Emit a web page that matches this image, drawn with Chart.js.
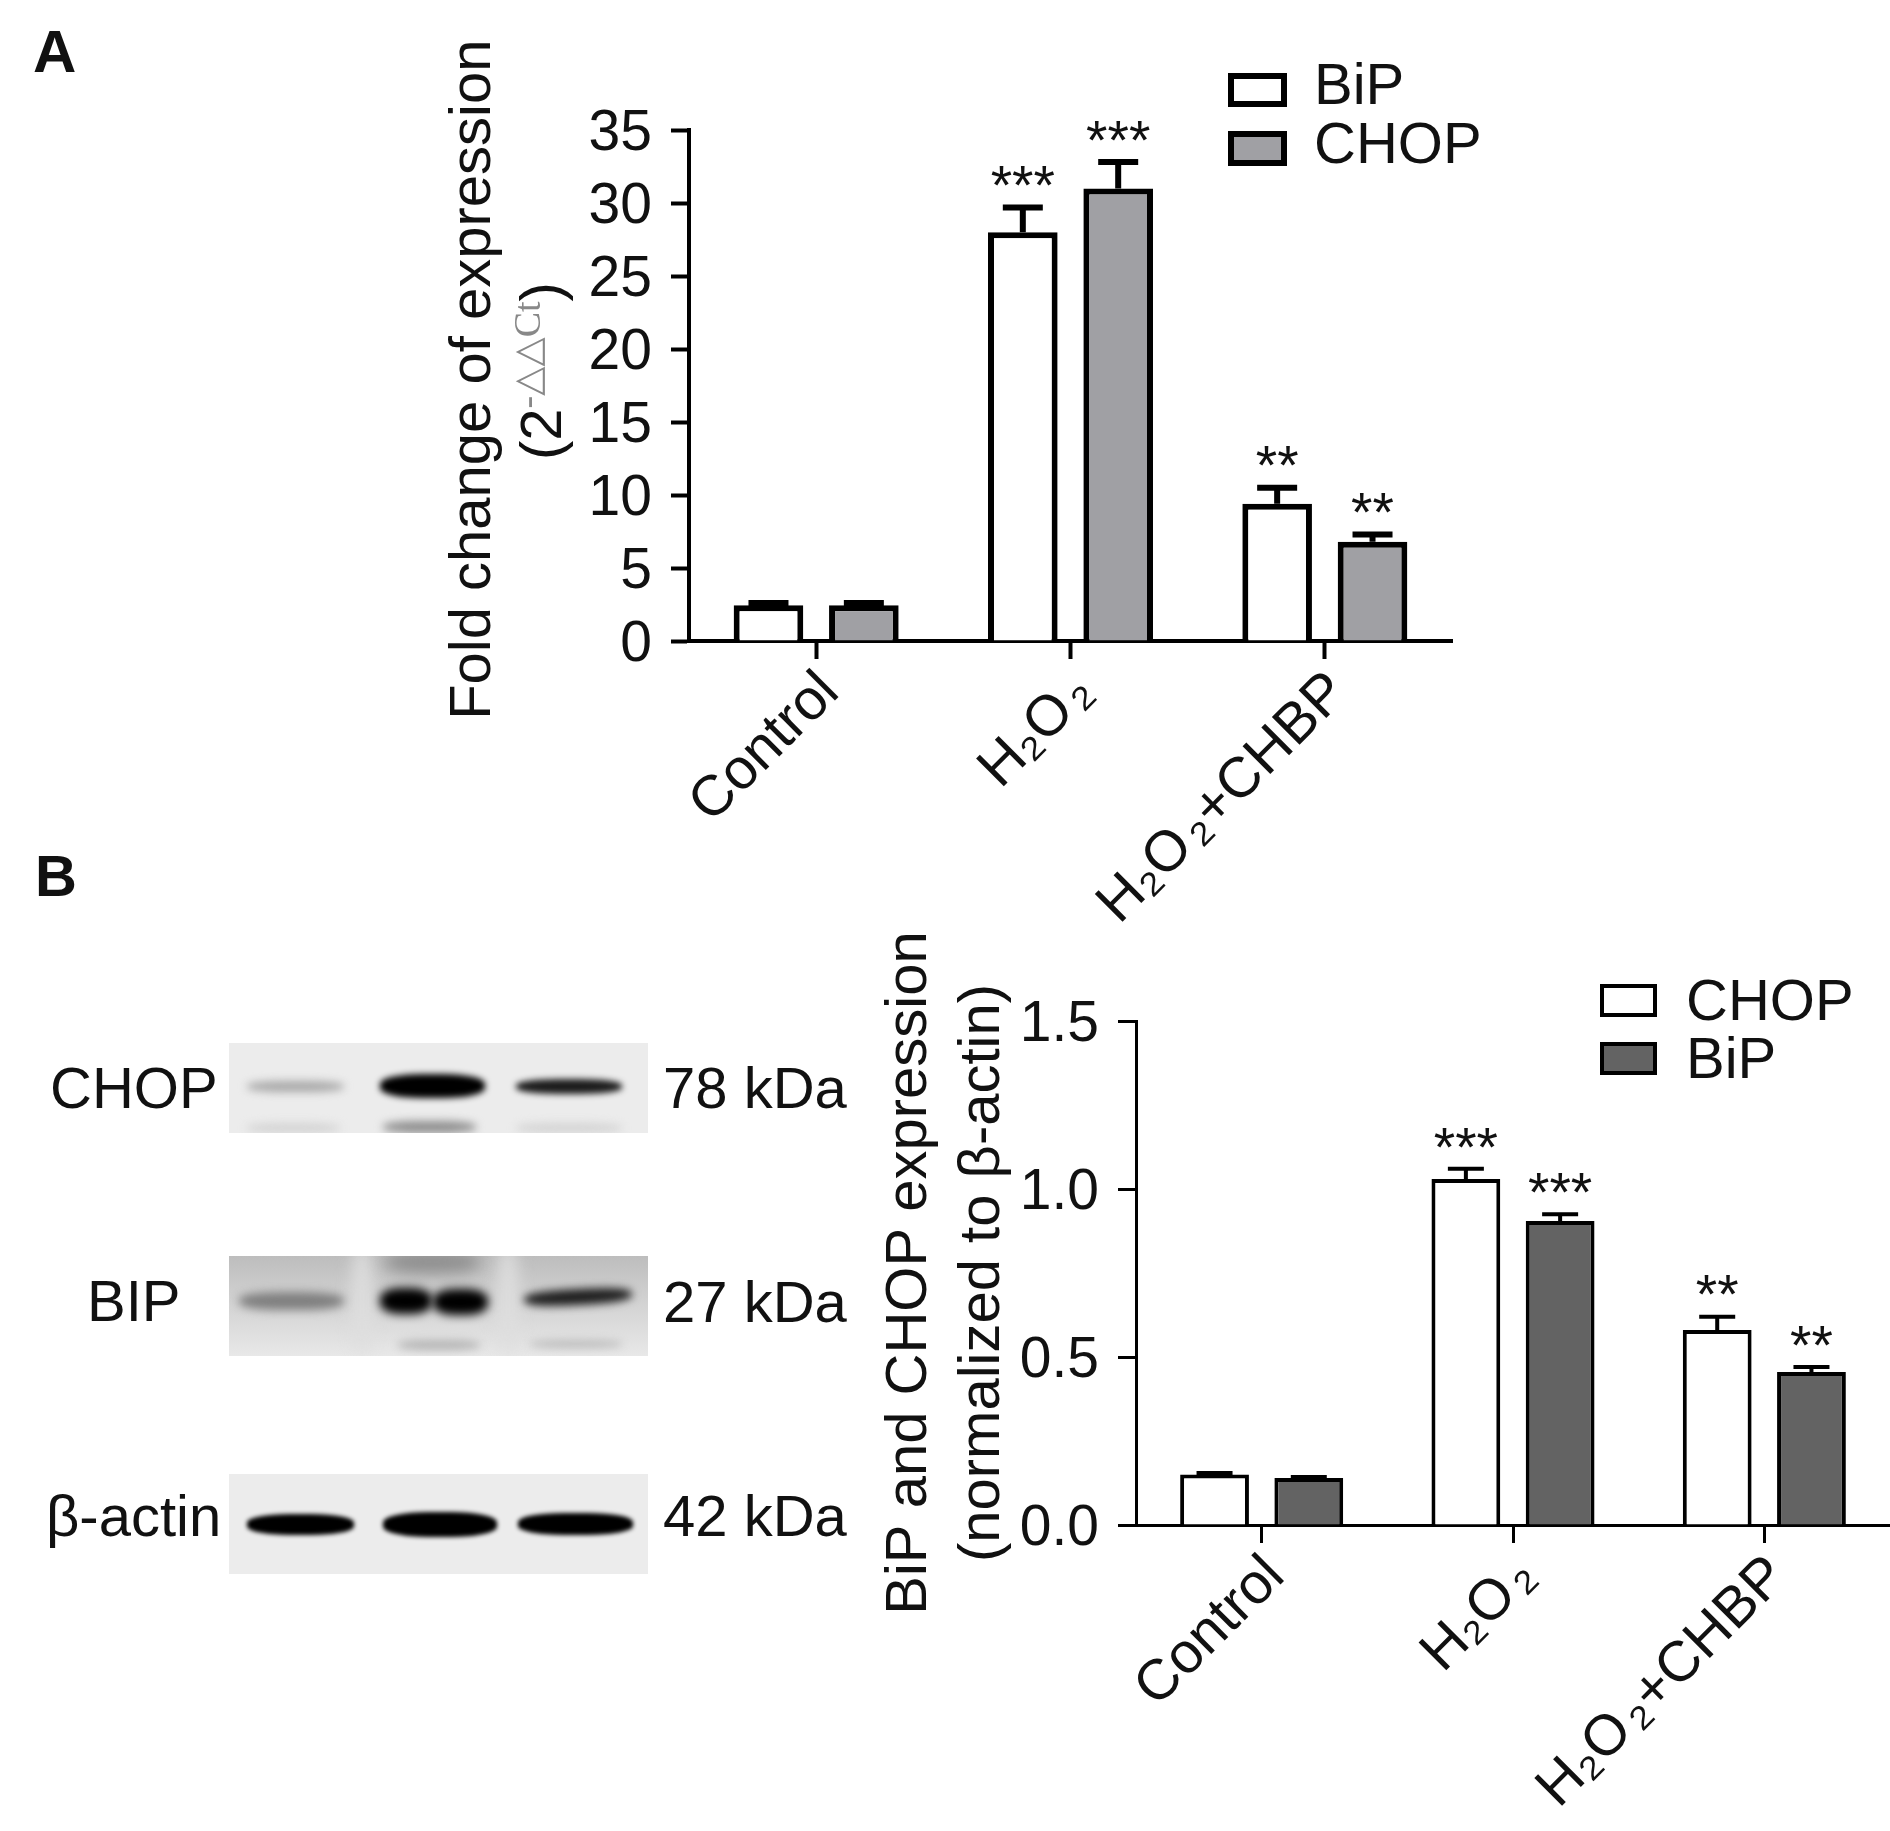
<!DOCTYPE html>
<html>
<head>
<meta charset="utf-8">
<script src="https://cdn.jsdelivr.net/npm/chart.js@4/dist/chart.umd.js"></script>
<style>
  html, body { margin: 0; padding: 0; background: #fff; }
  body { position: relative; width: 1890px; height: 1831px; overflow: hidden; font-family: "Liberation Sans", Arial, sans-serif; color: #111; }
  canvas { position: absolute; }
  .txt { position: absolute; white-space: nowrap; line-height: 1; transform: translateY(-50%); }
  .leg { position: absolute; box-sizing: border-box; }
  .panel { position: absolute; overflow: hidden; left: 229px; width: 419px; }
  .band { position: absolute; border-radius: 40%; }
</style>
</head>
<body>
<canvas id="chartA" width="1100" height="950" style="left:420px;top:0"></canvas>
<canvas id="chartB" width="1060" height="911" style="left:860px;top:920px"></canvas>

<script>
/* data */
var categoriesA = ['Control', 'H₂O\u200a₂', 'H₂O\u200a₂+CHBP'];
var bipA = [2.45, 28, 9.4];
var chopA = [2.45, 31, 6.8];
var bipErrA = [0.15, 1.7, 1.1];
var chopErrA = [0.15, 1.8, 0.5];
var bipStarsA = ['', '***', '**'];
var chopStarsA = ['', '***', '**'];
var yTicksA = [0, 5, 10, 15, 20, 25, 30, 35];

var categoriesB = ['Control', 'H₂O\u200a₂', 'H₂O\u200a₂+CHBP'];
var chopB = [0.15, 1.03, 0.58];
var bipB = [0.14, 0.905, 0.455];
var chopErrB = [0.005, 0.03, 0.04];
var bipErrB = [0.003, 0.02, 0.015];
var chopStarsB = ['', '***', '**'];
var bipStarsB = ['', '***', '**'];
var yTicksB = [0, 0.5, 1, 1.5];

Chart.defaults.font.family = '"Liberation Sans", Arial, sans-serif';
Chart.defaults.color = '#111';
var FONT = 58;

// error bars go under the bars, stars on top
var errorStars = {
    id: 'errorStars',
    beforeDatasetsDraw: function (chart) {
        var ctx = chart.ctx, yScale = chart.scales.y;
        chart.data.datasets.forEach(function (ds, i) {
            chart.getDatasetMeta(i).data.forEach(function (bar, j) {
                var top = yScale.getPixelForValue(ds.data[j] + ds.errors[j]);
                ctx.save();
                ctx.strokeStyle = '#000';
                ctx.lineWidth = ds.borderWidth;
                ctx.beginPath();
                ctx.moveTo(bar.x, bar.y);
                ctx.lineTo(bar.x, top);
                ctx.moveTo(bar.x - ds.capWidth / 2, top);
                ctx.lineTo(bar.x + ds.capWidth / 2, top);
                ctx.stroke();
                ctx.restore();
            });
        });
    },
    afterDatasetsDraw: function (chart) {
        var ctx = chart.ctx, yScale = chart.scales.y;
        chart.data.datasets.forEach(function (ds, i) {
            chart.getDatasetMeta(i).data.forEach(function (bar, j) {
                if (!ds.stars[j]) return;
                var top = yScale.getPixelForValue(ds.data[j] + ds.errors[j]);
                ctx.save();
                ctx.fillStyle = '#111';
                ctx.font = '55px "Liberation Sans", Arial, sans-serif';
                ctx.textAlign = 'center';
                ctx.textBaseline = 'top';
                ctx.fillText(ds.stars[j], bar.x, top - 46);
                ctx.restore();
            });
        });
    }
};

// second title line of panel A has a small grey superscript
var foldTitle = {
    id: 'foldTitle',
    afterDraw: function (chart) {
        var ctx = chart.ctx;
        ctx.save();
        ctx.translate(125, 370);
        ctx.rotate(-Math.PI / 2);
        ctx.textBaseline = 'middle';
        ctx.textAlign = 'left';
        var x = -90;
        ctx.font = FONT + 'px "Liberation Sans", Arial, sans-serif';
        ctx.fillStyle = '#111';
        ctx.fillText('(2', x, 0);
        x += ctx.measureText('(2').width;
        ctx.font = '38px "Liberation Serif", "DejaVu Serif", serif';
        ctx.fillStyle = '#888';
        ctx.fillText('-△△Ct', x, -15);
        x += ctx.measureText('-△△Ct').width;
        ctx.font = FONT + 'px "Liberation Sans", Arial, sans-serif';
        ctx.fillStyle = '#111';
        ctx.fillText(')', x, 0);
        ctx.restore();
    }
};

function makeChart(id, cfg) {
    new Chart(document.getElementById(id).getContext('2d'), {
        type: 'bar',
        data: {
            labels: cfg.labels,
            datasets: cfg.datasets
        },
        options: {
            responsive: false,
            animation: false,
            devicePixelRatio: 1,
            layout: { padding: cfg.padding },
            plugins: { legend: { display: false }, tooltip: { enabled: false } },
            scales: {
                x: {
                    afterFit: function (s) { s.height = cfg.xHeight; },
                    grid: { display: true, drawOnChartArea: false, offset: false, tickLength: 18, tickWidth: cfg.axisWidth, tickColor: '#000' },
                    border: { color: '#000', width: cfg.axisWidth },
                    ticks: { font: { size: 57 }, minRotation: 45, maxRotation: 45, padding: 0, labelOffset: 14, color: '#111', autoSkip: false }
                },
                y: {
                    min: cfg.yTicks[0],
                    max: cfg.yTicks[cfg.yTicks.length - 1],
                    afterFit: function (s) { s.width = cfg.yWidth; },
                    afterBuildTicks: function (s) { s.ticks = cfg.yTicks.map(function (v) { return { value: v }; }); },
                    grid: { drawOnChartArea: false, tickLength: 18, tickWidth: cfg.axisWidth, tickColor: '#000' },
                    border: { color: '#000', width: cfg.axisWidth },
                    ticks: { font: { size: 57 }, padding: 19, labelOffset: 4, color: '#111', callback: cfg.tickFormat },
                    title: { display: true, text: cfg.yTitle, font: { size: FONT, lineHeight: 1.25 }, color: '#111', padding: cfg.titlePadding }
                }
            }
        },
        plugins: cfg.plugins
    });
}

function barSet(label, values, errors, stars, fill, border, cap) {
    return {
        label: label, data: values, errors: errors, stars: stars,
        backgroundColor: fill, borderColor: '#000', borderWidth: border,
        categoryPercentage: 0.75, barPercentage: 0.73, capWidth: cap
    };
}

makeChart('chartA', {
    labels: categoriesA,
    datasets: [
        barSet('BiP', bipA, bipErrA, bipStarsA, '#ffffff', 6, 40),
        barSet('CHOP', chopA, chopErrA, chopStarsA, '#a0a0a4', 6, 40)
    ],
    yTicks: yTicksA,
    yTitle: '\u2009Fold change of expression',
    yWidth: 269,
    xHeight: 309,
    axisWidth: 4,
    padding: { left: 0, top: 130, right: 68, bottom: 0 },
    titlePadding: { top: 18, bottom: 0 },
    tickFormat: function (v) { return v; },
    plugins: [errorStars, foldTitle]
});

makeChart('chartB', {
    labels: categoriesB,
    datasets: [
        barSet('CHOP', chopB, chopErrB, chopStarsB, '#ffffff', 4, 36),
        barSet('BiP', bipB, bipErrB, bipStarsB, '#636363', 4, 36)
    ],
    yTicks: yTicksB,
    yTitle: ['BiP and CHOP expression', '(normalized to β-actin)'],
    yWidth: 276,
    xHeight: 306,
    axisWidth: 3,
    padding: { left: 0, top: 101, right: 30, bottom: 0 },
    titlePadding: { top: 14, bottom: 0 },
    tickFormat: function (v) { return v.toFixed(1); },
    plugins: [errorStars]
});

/* everything below is not chart data: legends, blot panels, labels */
function addText(text, x, y, size, extra) {
    var d = document.createElement('div');
    d.className = 'txt';
    d.textContent = text;
    d.style.left = x + 'px';
    d.style.top = y + 'px';
    d.style.fontSize = size + 'px';
    if (extra) d.style.cssText += extra;
    document.body.appendChild(d);
}

function addLegendBox(x, y, w, h, fill, border) {
    var d = document.createElement('div');
    d.className = 'leg';
    d.style.cssText += 'left:' + x + 'px;top:' + y + 'px;width:' + w + 'px;height:' + h + 'px;background:' + fill + ';border:' + border + 'px solid #000';
    document.body.appendChild(d);
}

addLegendBox(1228, 73, 59, 34, '#ffffff', 6);
addLegendBox(1228, 131, 59, 35, '#a0a0a4', 6);
addText('BiP', 1314, 84, 58);
addText('CHOP', 1314, 143, 58);

addLegendBox(1600, 984, 57, 33, '#ffffff', 4);
addLegendBox(1600, 1042, 57, 33, '#636363', 4);
addText('CHOP', 1686, 1000, 58);
addText('BiP', 1686, 1058, 58);

addText('A', 33, 52, 60, 'font-weight:bold');
addText('B', 35, 876, 58, 'font-weight:bold');

addText('CHOP', 50, 1088, 58);
addText('BIP', 87, 1301, 58);
addText('β-actin', 46, 1516, 58);
addText('78 kDa', 663, 1088, 58);
addText('27 kDa', 663, 1302, 58);
addText('42 kDa', 663, 1516, 58);

function addPanel(top, height, bg, bands) {
    var p = document.createElement('div');
    p.className = 'panel';
    p.style.top = top + 'px';
    p.style.height = height + 'px';
    p.style.background = bg;
    bands.forEach(function (b) {
        var d = document.createElement('div');
        d.className = 'band';
        d.style.cssText += 'left:' + (b[0] - 229) + 'px;width:' + (b[1] - b[0]) + 'px;top:' + (b[2] - b[3] / 2 - top) + 'px;height:' + b[3] + 'px;background:' + b[4] + ';filter:blur(' + b[5] + 'px)' + (b[6] ? ';transform:rotate(' + b[6] + 'deg)' : '');
        p.appendChild(d);
    });
    document.body.appendChild(p);
}

// x1, x2, y centre, height, colour, blur, tilt
addPanel(1043, 90, '#ececec', [
    [247, 344, 1086, 11, '#a8a8a8', 4],
    [380, 485, 1086, 24, '#000', 3],
    [516, 622, 1086, 15, '#1c1c1c', 3],
    [383, 476, 1127, 12, '#8e8e8e', 4],
    [247, 340, 1128, 10, '#d4d4d4', 4],
    [516, 622, 1128, 10, '#d4d4d4', 4]
]);
addPanel(1256, 100, 'linear-gradient(#bdbdbd, #d2d2d2 45%, #e8e8e8 100%)', [
    [352, 372, 1300, 110, '#dedede', 8],
    [498, 518, 1300, 110, '#dedede', 8],
    [385, 480, 1262, 22, '#8c8c8c', 8],
    [239, 344, 1301, 18, '#7f7f7f', 5],
    [380, 432, 1301, 26, '#000', 5],
    [433, 488, 1302, 26, '#000', 5],
    [524, 632, 1297, 16, '#1f1f1f', 4, -3],
    [398, 480, 1345, 10, '#b5b5b5', 4],
    [530, 622, 1344, 8, '#bcbcbc', 4]
]);
addPanel(1474, 100, '#ececec', [
    [247, 354, 1524, 21, '#000', 2],
    [383, 497, 1524, 25, '#000', 2],
    [518, 633, 1524, 22, '#000', 2]
]);
</script>
</body>
</html>
